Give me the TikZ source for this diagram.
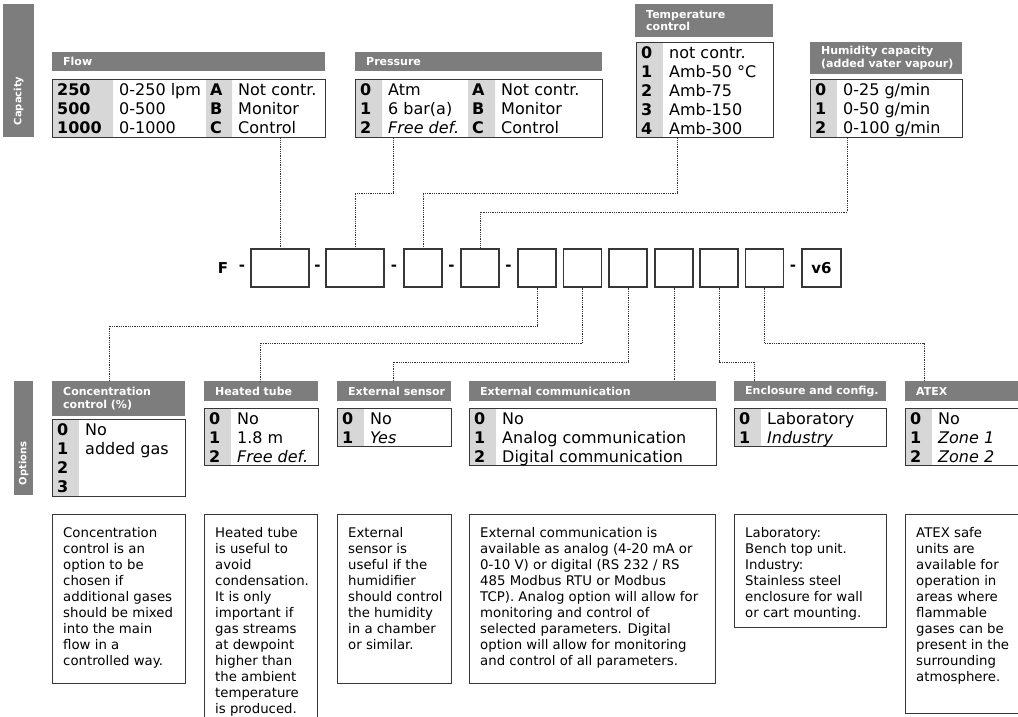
\documentclass[tikz,border=0pt]{standalone}
\usepackage{fontspec}
\setmainfont{DejaVu Sans}
\usetikzlibrary{positioning}

\definecolor{hdrgray}{RGB}{125,125,125}
\definecolor{codegray}{RGB}{215,215,215}
\definecolor{edge}{RGB}{55,55,55}

\tikzset{
  hdr/.style={fill=hdrgray, anchor=north west, inner sep=0pt},
  htxt/.style={text=white, anchor=west, inner sep=0pt, align=left, font=\fontsize{11}{12.5}\selectfont\bfseries},
  vtxt/.style={text=white, anchor=west, rotate=90, inner sep=0pt, font=\fontsize{10}{12}\selectfont\bfseries},
  tbl/.style={draw=edge, line width=1.3pt, anchor=north west, inner sep=0pt},
  cell/.style={anchor=base west, inner sep=0pt, font=\fontsize{16}{19}\selectfont},
  desc/.style={draw=edge, line width=1pt, anchor=north west, inner sep=0pt},
  dtext/.style={anchor=north west, inner sep=0pt, align=left, font=\fontsize{13.3}{16}\selectfont},
  cbox/.style={draw=edge, line width=1.2pt, minimum width=38pt, minimum height=38pt, inner sep=0pt, font=\fontsize{15}{18}\selectfont\bfseries},
  ctxt/.style={inner sep=0pt, font=\fontsize{15}{18}\selectfont\bfseries},
  link/.style={draw=black!80, densely dotted, line width=0.8pt}
}

% grey title bar: name, x, y, width, height, title
\newcommand\opthead[6]{%
  \node[hdr, minimum width=#4pt, minimum height=#5pt] (#1) at (#2,#3) {};
  \node[htxt] (#1L) at ([xshift=11pt]#1.west) {#6};}

% option table with grey code column: name, x, y, width, height, code/value list
\newcommand\opttable[6]{%
  \fill[codegray] (#2,#3) rectangle +(27,#5);
  \node[tbl, minimum width=#4pt, minimum height=#5pt] (#1) at (#2,#3) {};
  \foreach \k/\v [count=\i from 0] in {#6}{
    \node[cell] (#1k\i) at (#2+5,#3+16+19.2*\i) {\textbf{\k}};
    \node[cell] (#1v\i) at (#2+33,#3+16+19.2*\i) {\v};
  }}

% explanation box: name, x, y, width, height, text
\newcommand\optdesc[6]{%
  \node[desc, minimum width=#4pt, minimum height=#5pt] (#1) at (#2,#3) {};
  \node[dtext] (#1L) at ([shift={(11,13)}]#1.north west) {#6};}

\begin{document}
\begin{tikzpicture}[x=1pt,y=-1pt]
\useasboundingbox (0,0) rectangle (1018,716);
\clip (0,0) rectangle (1018,716);

% side bars
\node[hdr, minimum width=31pt, minimum height=133pt] (capB) at (3,4) {};
\node[vtxt] (capT) at ([yshift=12pt]capB.south) {Capacity};
\node[hdr, minimum width=19pt, minimum height=114pt] (optB) at (14,381) {};
\node[vtxt] (optT) at ([yshift=10pt]optB.south) {Options};

% capacity part
\opthead{flowH}{52}{52}{273}{19}{Flow}
\fill[codegray] (52,79) rectangle +(61,58) (206,79) rectangle +(26,58);
\node[tbl, minimum width=273pt, minimum height=58pt] (flow) at (52,79) {};
\foreach \k/\v/\kk/\vv [count=\i from 0] in {250/0-250 lpm/A/Not contr., 500/0-500/B/Monitor, 1000/0-1000/C/Control}{
  \node[cell] (flowk\i) at (57,95+19.2*\i) {\textbf{\k}};
  \node[cell] (flowv\i) at (119,95+19.2*\i) {\v};
  \node[cell] (flowkk\i) at (210,95+19.2*\i) {\textbf{\kk}};
  \node[cell] (flowvv\i) at (238,95+19.2*\i) {\vv};
}

\opthead{pressH}{355}{52}{247}{19}{Pressure}
\fill[codegray] (355,79) rectangle +(27,58) (468,79) rectangle +(27,58);
\node[tbl, minimum width=247pt, minimum height=58pt] (press) at (355,79) {};
\foreach \k/\v/\kk/\vv [count=\i from 0] in {0/Atm/A/Not contr., 1/6 bar(a)/B/Monitor, 2/\textit{Free def.}/C/Control}{
  \node[cell] (pressk\i) at (360,95+19.2*\i) {\textbf{\k}};
  \node[cell] (pressv\i) at (388,95+19.2*\i) {\v};
  \node[cell] (presskk\i) at (472,95+19.2*\i) {\textbf{\kk}};
  \node[cell] (pressvv\i) at (501,95+19.2*\i) {\vv};
}

\opthead{tempH}{635}{4}{138}{33}{Temperature\\control}
\opttable{temp}{636}{42}{137}{95}{0/not contr., 1/Amb-50 °C, 2/Amb-75, 3/Amb-150, 4/Amb-300}

\opthead{humH}{810}{42}{152}{32}{Humidity capacity\\(added vater vapour)}
\opttable{hum}{810}{79}{152}{58}{0/{0-25 g/min}, 1/{0-50 g/min}, 2/{0-100 g/min}}

% product code
\node[ctxt] (F) at (223,268) {F};
\node[ctxt] (d0) at (242,268) {-};
\node[cbox, minimum width=58pt] (c1) at (280,268) {};
\node[ctxt] (d1) at (317.5,268) {-};
\node[cbox, minimum width=58pt] (c2) at (355,268) {};
\node[ctxt] (d2) at (394,268) {-};
\node[cbox] (c3) at (423,268) {};
\node[ctxt] (d3) at (451.5,268) {-};
\node[cbox] (c4) at (480,268) {};
\node[ctxt] (d4) at (508.5,268) {-};
\foreach \n/\x in {5/537,6/582.5,7/628,8/674,9/719,10/764.5}
  \node[cbox] (c\n) at (\x,268) {};
\node[ctxt] (d5) at (793,268) {-};
\node[cbox, minimum width=39pt] (cv) at (821.5,268) {v6};

% links to capacity
\draw[link] (flow.south -| c1.north) -- (c1.north);
\coordinate (p1) at (393,193);
\draw[link] (p1 |- press.south) -- (p1) -| (c2.north);
\coordinate (t1) at (677,193);
\draw[link] (t1 |- temp.south) -- (t1) -| (c3.north);
\coordinate (h1) at (847,212);
\draw[link] (h1 |- hum.south) -- (h1) -| (c4.north);

% options part
\opthead{concH}{52}{381}{133}{35}{Concentration\\control (\%)}
\opttable{conc}{52}{419}{133}{77}{0/No, 1/added gas, 2/{}, 3/{}}
\opthead{heatH}{204}{381}{114}{20}{Heated tube}
\opttable{heat}{204}{408}{114}{57}{0/No, 1/1.8 m, 2/\textit{Free def.}}
\opthead{extH}{337}{381}{114}{20}{External sensor}
\opttable{ext}{337}{408}{114}{38}{0/No, 1/\textit{Yes}}
\opthead{commH}{469}{381}{247}{20}{External communication}
\opttable{comm}{469}{408}{247}{57}{0/No, 1/Analog communication, 2/Digital communication}
\opthead{enclH}{734}{381}{152}{20}{Enclosure and config.}
\opttable{encl}{734}{408}{152}{38}{0/Laboratory, 1/\textit{Industry}}
\opthead{atexH}{905}{381}{125}{20}{ATEX}
\opttable{atex}{905}{408}{125}{57}{0/No, 1/\textit{Zone 1}, 2/\textit{Zone 2}}

% links to options
\coordinate (o1) at (109,326);
\draw[link] (c5.south) |- (o1) -- (o1 |- concH.north);
\coordinate (o2) at (260,343);
\draw[link] (c6.south) |- (o2) -- (o2 |- heatH.north);
\coordinate (o3) at (393,362);
\draw[link] (c7.south) |- (o3) -- (o3 |- extH.north);
\draw[link] (c8.south) -- (c8.south |- commH.north);
\coordinate (o5) at (754,362);
\draw[link] (c9.south) |- (o5) -- (o5 |- enclH.north);
\coordinate (o6) at (924,343);
\draw[link] (c10.south) |- (o6) -- (o6 |- atexH.north);

% explanations
\optdesc{concD}{52}{514}{133}{169}{Concentration\\control is an\\option to be\\chosen if\\additional gases\\should be mixed\\into the main\\flow in a\\controlled way.}
\optdesc{heatD}{204}{514}{113}{220}{Heated tube\\is useful to\\avoid\\condensation.\\It is only\\important if\\gas streams\\at dewpoint\\higher than\\the ambient\\temperature\\is produced.}
\optdesc{extD}{337}{514}{114}{169}{External\\sensor is\\useful if the\\humidifier\\should control\\the humidity\\in a chamber\\or similar.}
\optdesc{commD}{469}{514}{246}{169}{External communication is\\available as analog (4-20 mA or\\0-10 V) or digital (RS 232 / RS\\485 Modbus RTU or Modbus\\TCP). Analog option will allow for\\monitoring and control of\\selected parameters. Digital\\option will allow for monitoring\\and control of all parameters.}
\optdesc{enclD}{734}{514}{152}{113}{Laboratory:\\Bench top unit.\\Industry:\\Stainless steel\\enclosure for wall\\or cart mounting.}
\optdesc{atexD}{905}{514}{125}{199}{ATEX safe\\units are\\available for\\operation in\\areas where\\flammable\\gases can be\\present in the\\surrounding\\atmosphere.}
\end{tikzpicture}
\end{document}
